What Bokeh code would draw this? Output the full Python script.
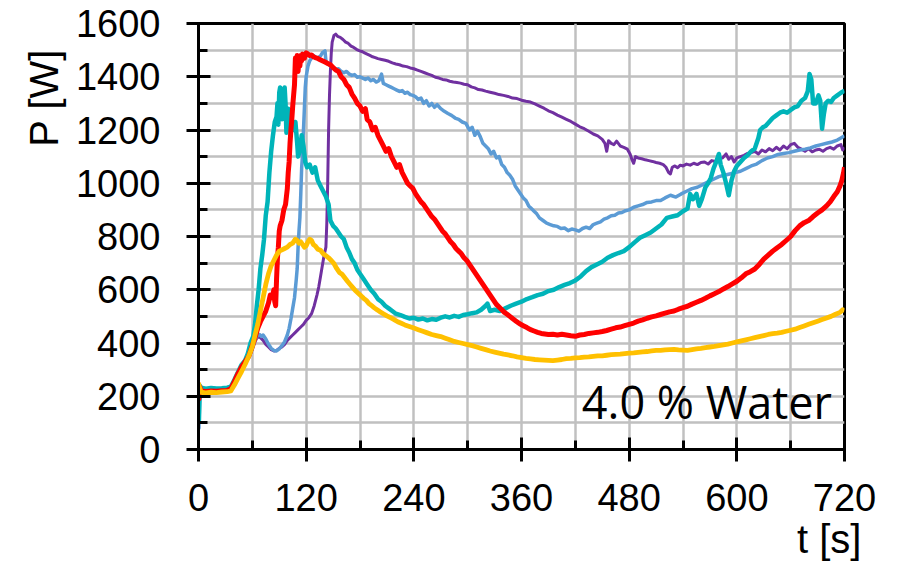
import math
from bokeh.plotting import figure
from bokeh.models import Range1d, FixedTicker, Label, LinearAxis
from bokeh.embed import file_html
from bokeh.resources import INLINE

# ---------------- data ----------------
x_ticks = [0, 120, 240, 360, 480, 600, 720]
x_minor = [60, 180, 300, 420, 540, 660]
y_ticks = [0, 200, 400, 600, 800, 1000, 1200, 1400, 1600]
y_minor = [100, 300, 500, 700, 900, 1100, 1300, 1500]
grid_x = [0, 60, 120, 180, 240, 300, 360, 420, 480, 540, 600, 660, 720]
grid_y = [0, 100, 200, 300, 400, 500, 600, 700, 800, 900, 1000, 1100, 1200, 1300, 1400, 1500, 1600]

purple_t = [0, 1, 3, 8, 14, 20, 26, 32, 36, 40, 44, 48, 52, 56, 60, 63, 66, 69, 72, 75, 78, 81, 84, 87, 90, 93, 96, 99, 102, 105, 108, 111, 114, 117, 120, 123, 126, 129, 132, 134, 136, 138, 140, 142, 143, 144, 145, 146, 147, 148, 149, 151, 153, 155, 158, 161, 164, 167, 170, 173, 176, 179, 182, 185, 188, 191, 194, 197, 200, 204, 208, 212, 216, 220, 224, 228, 232, 236, 240, 244, 248, 252, 256, 260, 264, 268, 272, 276, 280, 284, 288, 292, 296, 300, 304, 308, 312, 316, 320, 325, 330, 335, 340, 345, 350, 355, 360, 365, 370, 375, 380, 385, 390, 395, 400, 405, 410, 415, 420, 425, 430, 435, 440, 445, 450, 453, 455, 457, 460, 463, 466, 470, 474, 478, 481, 483, 485, 487, 490, 494, 498, 502, 506, 510, 514, 518, 521, 524, 526, 528, 531, 534, 537, 540, 544, 548, 552, 556, 560, 564, 568, 572, 576, 580, 584, 588, 591, 594, 597, 600, 604, 608, 612, 616, 620, 624, 628, 632, 636, 640, 644, 648, 652, 656, 660, 664, 668, 672, 676, 680, 684, 688, 692, 696, 700, 704, 708, 712, 716, 718, 720]
purple_p = [225, 215, 222, 220, 222, 221, 223, 224, 228, 250, 280, 305, 325, 345, 375, 405, 425, 420, 410, 395, 385, 375, 370, 372, 380, 385, 395, 410, 420, 430, 440, 450, 460, 470, 485, 495, 510, 540, 580, 610, 650, 690, 730, 760, 850, 1000, 1200, 1330, 1420, 1490, 1530, 1555, 1560, 1552, 1548, 1540, 1530, 1525, 1515, 1510, 1503, 1498, 1495, 1490, 1485, 1480, 1475, 1472, 1468, 1465, 1462, 1458, 1452, 1448, 1445, 1440, 1438, 1433, 1430, 1425, 1420, 1415, 1410, 1405, 1398, 1395, 1390, 1388, 1383, 1380, 1378, 1376, 1372, 1370, 1362, 1358, 1352, 1350, 1346, 1342, 1338, 1333, 1330, 1326, 1320, 1318, 1312, 1308, 1305, 1298, 1290, 1282, 1272, 1265, 1256, 1248, 1240, 1232, 1222, 1212, 1205, 1195, 1185, 1178, 1165, 1150, 1120, 1160, 1150, 1145, 1158, 1140, 1135, 1128, 1110, 1090, 1075, 1100, 1095, 1092, 1088, 1085, 1082, 1078, 1075, 1070, 1060, 1040, 1035, 1060, 1065, 1058, 1068, 1065, 1072, 1068, 1075, 1070, 1078, 1080, 1072, 1085, 1082, 1090, 1095, 1110, 1090, 1100, 1080, 1095, 1100, 1105, 1112, 1115, 1120, 1110, 1125, 1118, 1130, 1122, 1135, 1125, 1140, 1130, 1145, 1150, 1135, 1128, 1120, 1130, 1118, 1125, 1128, 1120, 1130, 1135, 1128, 1140, 1145, 1125, 1135]

blue_t = [0, 0.5, 1.5, 3, 8, 14, 20, 26, 32, 36, 40, 44, 48, 52, 56, 60, 63, 66, 68, 70, 72, 75, 78, 81, 84, 87, 90, 93, 96, 99, 101, 103, 105, 107, 109, 110, 111, 112, 113, 114, 115, 116, 117, 118, 119, 120, 122, 124, 126, 128, 130, 133, 136, 138, 141, 142, 144, 147, 150, 153, 156, 159, 162, 165, 168, 171, 174, 177, 180, 183, 186, 189, 192, 195, 198, 201, 204, 206, 209, 212, 215, 218, 221, 224, 227, 230, 233, 236, 239, 242, 245, 248, 251, 254, 257, 260, 263, 266, 270, 274, 278, 282, 286, 290, 294, 298, 302, 305, 308, 311, 314, 317, 320, 323, 326, 329, 332, 335, 338, 341, 344, 347, 350, 353, 356, 359, 362, 365, 368, 371, 374, 377, 380, 384, 388, 392, 396, 400, 404, 408, 412, 416, 420, 424, 428, 432, 436, 440, 444, 448, 452, 456, 460, 464, 468, 472, 476, 480, 485, 490, 495, 500, 505, 510, 515, 520, 526, 532, 538, 544, 550, 556, 562, 568, 574, 580, 586, 592, 598, 604, 610, 616, 622, 628, 634, 640, 646, 652, 658, 664, 670, 676, 682, 688, 694, 700, 706, 712, 716, 720]
blue_p = [230, 80, 220, 225, 222, 224, 223, 225, 226, 230, 255, 285, 310, 330, 350, 385, 410, 430, 432, 425, 430, 415, 395, 380, 372, 370, 378, 390, 405, 430, 455, 490, 530, 570, 640, 680, 760, 820, 870, 960, 1060, 1110, 1200, 1280, 1360, 1400, 1440, 1460, 1470, 1480, 1475, 1470, 1478, 1490, 1497, 1460, 1450, 1440, 1435, 1428, 1430, 1420, 1415, 1420, 1410, 1405, 1408, 1398, 1400, 1395, 1390, 1395, 1385, 1390, 1380, 1385, 1410, 1375, 1370, 1365, 1360, 1355, 1350, 1345, 1348, 1338, 1342, 1333, 1330, 1325, 1315, 1320, 1300, 1310, 1290, 1300, 1285, 1295, 1280, 1270, 1262, 1255, 1245, 1240, 1230, 1225, 1200, 1210, 1180, 1195, 1175, 1150, 1140, 1130, 1110, 1120, 1095, 1100, 1070, 1060, 1040, 1030, 1015, 990, 975, 960, 945, 935, 915, 905, 895, 885, 870, 860, 850, 845, 840, 838, 830, 832, 822, 828, 825, 820, 830, 835, 830, 845, 850, 855, 865, 870, 878, 880, 888, 890, 897, 900, 910, 915, 920, 928, 930, 935, 935, 945, 955, 948, 960, 970, 980, 985, 995, 1005, 1015, 1025, 1030, 1035, 1040, 1045, 1055, 1065, 1072, 1085, 1095, 1100, 1108, 1112, 1115, 1120, 1125, 1128, 1133, 1140, 1145, 1150, 1155, 1162, 1170, 1178]

teal_t = [0, 0.5, 1.5, 3, 8, 14, 20, 26, 32, 36, 40, 44, 48, 52, 55, 58, 61, 63, 65, 67, 69, 71, 73, 75, 77, 79, 81, 83, 85, 87, 88, 89, 90, 91, 92, 93, 94, 95, 96, 97, 98, 99, 100, 102, 104, 106, 108, 110, 111, 113, 115, 117, 119, 121, 124, 127, 130, 133, 136, 139, 142, 145, 147, 150, 153, 156, 159, 162, 165, 168, 171, 174, 177, 180, 184, 188, 192, 196, 200, 204, 208, 212, 216, 220, 225, 230, 235, 240, 245, 250, 255, 260, 265, 270, 275, 280, 285, 290, 295, 300, 305, 310, 315, 320, 322, 325, 330, 336, 342, 348, 354, 360, 366, 372, 378, 384, 390, 396, 402, 408, 414, 420, 426, 432, 438, 444, 450, 456, 462, 468, 474, 480, 486, 492, 498, 504, 510, 516, 522, 528, 534, 540, 545, 548, 551, 555, 558, 561, 565, 568, 571, 574, 577, 580, 582, 585, 588, 591, 594, 597, 600, 604, 608, 612, 616, 620, 624, 626, 629, 632, 636, 640, 644, 648, 652, 656, 660, 664, 668, 672, 676, 679, 681, 683, 685, 688, 691, 693, 695, 697, 699, 702, 705, 708, 712, 716, 720]
teal_p = [245, 110, 240, 232, 228, 231, 229, 230, 232, 236, 262, 290, 318, 335, 360, 400, 425, 470, 540, 600, 680, 730, 790, 880, 930, 1040, 1120, 1180, 1230, 1250, 1300, 1220, 1340, 1360, 1280, 1240, 1350, 1290, 1360, 1300, 1190, 1220, 1280, 1250, 1240, 1200, 1230, 1150, 1100, 1120, 1180, 1140, 1080, 1060, 1070, 1040, 1060, 1010, 990, 970, 950, 920, 860, 840, 830, 815, 800, 790, 760, 740, 715, 700, 675, 660, 640, 620, 600, 585, 565, 555, 540, 530, 520, 510, 505, 498, 492, 495, 488, 492, 485, 490, 487, 495, 500, 496, 502, 498, 505, 508, 512, 515, 525, 540, 548, 520, 525, 520, 530, 540, 548, 555, 565, 572, 580, 585, 595, 600, 610, 618, 625, 635, 650, 670, 685, 695, 705, 720, 730, 738, 745, 760, 778, 795, 805, 815, 830, 845, 870, 875, 880, 895, 905, 960, 940, 960, 915, 940, 985, 1000, 1020, 1055, 1080, 1110, 1070, 1040, 1000, 955, 1010, 1045, 1065, 1080, 1095, 1105, 1120, 1130, 1170, 1200, 1210, 1215, 1230, 1245, 1255, 1265, 1270, 1265, 1275, 1285, 1290, 1310, 1320, 1345, 1410, 1390, 1300, 1300, 1330, 1310, 1205, 1260, 1300, 1310, 1305, 1320, 1330, 1340, 1348]

red_t = [0, 0.5, 1.5, 3, 8, 14, 20, 26, 32, 36, 40, 44, 48, 52, 56, 60, 63, 66, 69, 72, 75, 78, 80, 82, 84, 85, 86, 87, 88, 89, 90, 91, 93, 95, 97, 99, 100, 101, 102, 103, 104, 105, 106, 107, 108, 109, 110, 111, 112, 113, 114, 115, 116, 118, 120, 122, 124, 126, 128, 130, 132, 135, 138, 141, 144, 147, 150, 153, 156, 159, 162, 165, 168, 171, 174, 177, 180, 183, 186, 188, 191, 194, 197, 200, 203, 206, 209, 212, 215, 218, 221, 224, 227, 230, 233, 236, 239, 242, 245, 248, 251, 254, 257, 260, 263, 266, 269, 272, 275, 278, 281, 284, 287, 290, 293, 296, 299, 302, 305, 308, 311, 314, 317, 320, 323, 326, 329, 332, 335, 338, 341, 344, 347, 350, 354, 358, 362, 366, 370, 374, 378, 382, 386, 390, 395, 400, 405, 410, 415, 420, 425, 430, 435, 440, 445, 450, 455, 460, 465, 470, 475, 480, 485, 490, 495, 500, 505, 510, 515, 520, 525, 530, 535, 540, 545, 550, 555, 560, 565, 570, 575, 580, 585, 590, 595, 600, 605, 610, 615, 620, 625, 630, 635, 640, 645, 650, 655, 660, 665, 670, 675, 680, 685, 690, 695, 700, 704, 708, 712, 715, 717, 719, 720]
red_p = [250, 190, 235, 220, 218, 220, 219, 221, 222, 228, 255, 285, 310, 330, 350, 390, 420, 455, 480, 500, 520, 550, 580, 570, 600, 555, 540, 640, 720, 760, 820, 840, 860, 900, 920, 980, 1040, 1080, 1150, 1200, 1240, 1290, 1330, 1370, 1470, 1440, 1480, 1420, 1470, 1440, 1480, 1460, 1485, 1470, 1490, 1485, 1480, 1482, 1475, 1472, 1470, 1465, 1460, 1455, 1450, 1445, 1435, 1425, 1420, 1400, 1390, 1370, 1360, 1335, 1320, 1300, 1290, 1270, 1280, 1240, 1230, 1200, 1210, 1180, 1160, 1140, 1120, 1130, 1100, 1080, 1060, 1070, 1040, 1020, 1000, 990, 980, 960, 945, 930, 920, 905, 890, 875, 865, 850, 835, 820, 810, 795, 780, 770, 755, 745, 735, 720, 710, 695, 680, 665, 650, 635, 620, 605, 590, 575, 560, 545, 535, 525, 515, 508, 500, 492, 482, 472, 465, 458, 450, 445, 440, 436, 434, 432, 433, 430, 433, 430, 427, 425, 430, 432, 436, 438, 440, 443, 447, 452, 457, 460, 465, 470, 475, 482, 487, 493, 498, 502, 507, 512, 517, 520, 527, 533, 538, 546, 553, 560, 568, 577, 585, 593, 603, 612, 622, 632, 645, 660, 668, 678, 695, 715, 730, 745, 758, 770, 785, 800, 822, 840, 852, 860, 875, 888, 900, 915, 930, 950, 968, 990, 1010, 1040, 1060]

yellow_t = [0, 1, 3, 8, 14, 20, 26, 32, 36, 40, 44, 48, 52, 56, 60, 63, 66, 69, 72, 75, 78, 81, 84, 87, 90, 93, 96, 99, 102, 105, 108, 110, 112, 114, 116, 118, 120, 122, 124, 126, 128, 130, 133, 136, 139, 142, 145, 148, 151, 154, 157, 160, 163, 166, 169, 172, 175, 178, 181, 184, 187, 190, 193, 196, 199, 202, 206, 210, 214, 218, 222, 226, 230, 235, 240, 245, 250, 255, 260, 265, 270, 275, 280, 285, 290, 295, 300, 305, 310, 315, 320, 325, 330, 335, 340, 345, 350, 355, 360, 365, 370, 375, 380, 385, 390, 395, 400, 405, 410, 415, 420, 425, 430, 435, 440, 445, 450, 455, 460, 465, 470, 475, 480, 485, 490, 495, 500, 505, 510, 515, 520, 525, 530, 535, 540, 545, 550, 555, 560, 565, 570, 575, 580, 585, 590, 595, 600, 605, 610, 615, 620, 625, 630, 635, 640, 645, 650, 655, 660, 665, 670, 675, 680, 685, 690, 695, 700, 705, 710, 715, 718, 720]
yellow_p = [250, 235, 215, 213, 215, 214, 216, 217, 220, 242, 268, 293, 320, 350, 387, 430, 470, 520, 570, 620, 660, 690, 710, 730, 745, 750, 755, 760, 770, 775, 790, 785, 775, 780, 770, 760, 765, 780, 790, 785, 770, 765, 752, 748, 735, 728, 720, 710, 698, 680, 665, 658, 645, 632, 620, 608, 596, 587, 578, 568, 560, 548, 540, 532, 525, 518, 510, 502, 495, 488, 480, 474, 468, 462, 456, 450, 444, 438, 432, 428, 424, 418, 412, 406, 402, 398, 394, 390, 385, 380, 375, 370, 366, 362, 358, 355, 352, 348, 345, 342, 340, 338, 337, 336, 335, 334, 336, 338, 341, 342, 344, 345, 347, 348, 350, 352, 352, 354, 356, 357, 358, 360, 362, 363, 365, 367, 368, 370, 372, 372, 374, 375, 376, 374, 373, 372, 375, 378, 380, 383, 385, 387, 390, 393, 396, 400, 404, 408, 412, 416, 420, 424, 428, 432, 435, 437, 440, 444, 448, 452, 458, 464, 470, 476, 482, 488, 494, 500, 508, 515, 525, 522]

series = [
    ("purple", purple_t, purple_p, "#7030A0", 3.0),
    ("blue", blue_t, blue_p, "#5B9BD5", 3.5),
    ("teal", teal_t, teal_p, "#00B4B9", 4.5),
    ("red", red_t, red_p, "#FF0000", 5.0),
    ("yellow", yellow_t, yellow_p, "#FFC000", 4.8),
]

# ---------------- figure ----------------
p = figure(width=905, height=566, output_backend="svg", toolbar_location=None,
           x_range=Range1d(0, 720), y_range=Range1d(0, 1600),
           min_border_left=198, min_border_right=61, min_border_top=23, min_border_bottom=117)

p.background_fill_color = "white"
p.border_fill_color = "white"
p.outline_line_color = "black"
p.outline_line_width = 3

for g, ticks in ((p.xgrid[0], grid_x), (p.ygrid[0], grid_y)):
    g.ticker = FixedTicker(ticks=ticks)
    g.grid_line_color = "#C0C0C0"
    g.grid_line_width = 2.5

for ax, maj, mnr in ((p.xaxis[0], x_ticks, x_minor), (p.yaxis[0], y_ticks, y_minor)):
    ax.ticker = FixedTicker(ticks=maj, minor_ticks=mnr)
    ax.axis_line_color = "black"
    ax.axis_line_width = 3
    ax.major_tick_line_color = "black"
    ax.major_tick_line_width = 3
    ax.minor_tick_line_color = "black"
    ax.minor_tick_line_width = 3
    ax.major_tick_in = 12
    ax.major_tick_out = 12
    ax.minor_tick_in = 9
    ax.minor_tick_out = 0
    ax.major_label_text_font = "Liberation Sans"
    ax.major_label_text_font_size = "38px"
    ax.major_label_text_color = "black"

p.xaxis[0].major_label_standoff = 22
p.yaxis[0].major_label_standoff = 26

for name, t, v, col, w in series:
    p.line(t, v, line_color=col, line_width=w, line_join="round")

# axis titles, placed as single-tick label axes outside the frame
t_title_at = 703
p_title_at = 1321
xtitle = LinearAxis(ticker=FixedTicker(ticks=[t_title_at]),
                    major_label_overrides={t_title_at: "t [s]"},
                    axis_line_color=None, major_tick_line_color=None, minor_tick_line_color=None,
                    major_tick_in=0, major_tick_out=0, minor_tick_in=0, minor_tick_out=0,
                    major_label_standoff=3, major_label_text_font="Liberation Sans",
                    major_label_text_font_size="40px", major_label_text_color="black")
p.add_layout(xtitle, "below")
ytitle = LinearAxis(ticker=FixedTicker(ticks=[p_title_at]),
                    major_label_overrides={p_title_at: "P [W]"},
                    major_label_orientation="vertical",
                    axis_line_color=None, major_tick_line_color=None, minor_tick_line_color=None,
                    major_tick_in=0, major_tick_out=0, minor_tick_in=0, minor_tick_out=0,
                    major_label_standoff=6, major_label_text_font="Liberation Sans",
                    major_label_text_font_size="40px", major_label_text_color="black")
p.add_layout(ytitle, "left")

p.add_layout(Label(x=706, y=181, text="4.0 % Water",
                   text_font="Open Sans", text_font_size="45px",
                   text_align="right", text_baseline="alphabetic", text_color="black"))

open("out.html", "w").write(file_html(p, INLINE))
